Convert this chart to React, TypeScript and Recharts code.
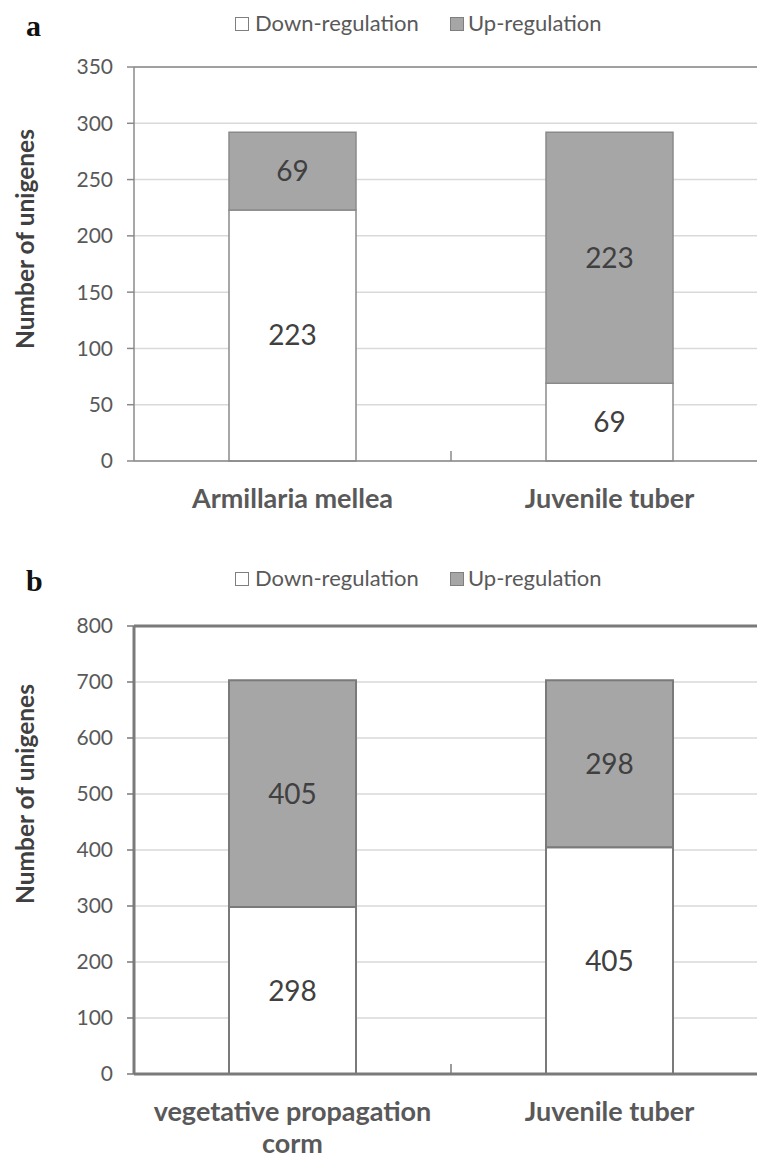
import React from 'react';
import { BarChart, Bar, XAxis, YAxis, CartesianGrid, Legend, LabelList, ReferenceLine } from 'recharts';

const categoriesA = ['Armillaria mellea', 'Juvenile tuber'];
const downA = [223, 69];
const upA = [69, 223];
const ticksA = [0, 50, 100, 150, 200, 250, 300, 350];

const categoriesB = ['vegetative propagation\ncorm', 'Juvenile tuber'];
const downB = [298, 405];
const upB = [405, 298];
const ticksB = [0, 100, 200, 300, 400, 500, 600, 700, 800];

const seriesNames = ['Down-regulation', 'Up-regulation'];

const FONT = 'Lato, "Open Sans", sans-serif';
const CHART_W = 768;
const Y_W = 134;
const BAND = (CHART_W - Y_W) / 2;

const dataA = categoriesA.map((c, i) => ({ name: c, down: downA[i], up: upA[i] }));
const dataB = categoriesB.map((c, i) => ({ name: c, down: downB[i], up: upB[i] }));

const CategoryTick = (props: any) => {
  const { x, y, payload, index, visibleTicksCount, band, stroke } = props;
  const lines = String(payload.value).split('\n');
  return (
    <g>
      {index < visibleTicksCount - 1 && (
        <line x1={x + band / 2} x2={x + band / 2} y1={y - 10} y2={y} stroke={stroke} strokeWidth={1.5} />
      )}
      <text x={x} y={y + 36} textAnchor="middle" dominantBaseline="central" fontFamily={FONT} fontWeight={700} fontSize={27} fill="#595959">
        {lines.map((l, i) => (
          <tspan key={i} x={x} dy={i === 0 ? 0 : 32}>{l}</tspan>
        ))}
      </text>
    </g>
  );
};

const LegendContent = ({ letter, top, letterTop }: any) => (
  <div style={{ position: 'relative', height: 62, fontFamily: FONT }}>
    <div style={{ position: 'absolute', left: 26, top: letterTop, fontFamily: '"Liberation Serif", serif', fontWeight: 700, fontSize: 30, lineHeight: '30px', color: '#111' }}>{letter}</div>
    <div style={{ position: 'absolute', left: 235, top: top - 6, width: 12, height: 12, border: '1px solid #7f7f7f', background: '#fff' }} />
    <div style={{ position: 'absolute', left: 255, top: top - 13, fontSize: 22, lineHeight: '26px', color: '#595959' }}>{seriesNames[0]}</div>
    <div style={{ position: 'absolute', left: 450, top: top - 6, width: 12, height: 12, border: '1px solid #7f7f7f', background: '#a6a6a6' }} />
    <div style={{ position: 'absolute', left: 468, top: top - 13, fontSize: 22, lineHeight: '26px', color: '#595959' }}>{seriesNames[1]}</div>
  </div>
);

const YLabel = ({ viewBox, shift }: any) => {
  const cx = 24;
  const cy = viewBox.y + viewBox.height / 2 + shift;
  return (
    <text x={cx} y={cy} transform={`rotate(-90 ${cx} ${cy})`} textAnchor="middle" dominantBaseline="central" fontFamily={FONT} fontWeight={700} fontSize={24.5} fill="#404040">
      Number of unigenes
    </text>
  );
};

const Panel = ({ data, ticks, max, height, marginTop, xHeight, axisColor, axisW, barStroke, barStrokeW, letter, legendTop, letterTop, labelShift }: any) => (
  <BarChart width={CHART_W} height={height} data={data} margin={{ top: marginTop, right: 0, left: 0, bottom: 3 }}>
    <Legend verticalAlign="top" content={<LegendContent letter={letter} top={legendTop} letterTop={letterTop} />} />
    <CartesianGrid vertical={false} stroke="#d9d9d9" strokeWidth={1.5} />
    <ReferenceLine y={max} stroke={axisColor} strokeWidth={axisW} />
    <XAxis
      dataKey="name"
      height={xHeight}
      axisLine={{ stroke: axisColor, strokeWidth: axisW }}
      tickLine={false}
      tickSize={0}
      tickMargin={0}
      interval={0}
      tick={<CategoryTick band={BAND} stroke={axisColor} />}
    />
    <YAxis
      width={Y_W}
      domain={[0, max]}
      ticks={ticks}
      interval={0}
      axisLine={{ stroke: axisColor, strokeWidth: axisW }}
      tickLine={{ stroke: axisColor, strokeWidth: 1.5 }}
      tickSize={7}
      tickMargin={14}
      tick={{ fontFamily: FONT, fontSize: 21, fill: '#595959' }}
      label={{ content: <YLabel shift={labelShift} /> }}
    />
    <Bar dataKey="down" stackId="s" fill="#ffffff" stroke={barStroke} strokeWidth={barStrokeW} barSize={127} isAnimationActive={false}>
      <LabelList dataKey="down" position="center" fill="#404040" fontSize={28} fontFamily={FONT} />
    </Bar>
    <Bar dataKey="up" stackId="s" fill="#a6a6a6" stroke={barStroke} strokeWidth={barStrokeW} barSize={127} isAnimationActive={false}>
      <LabelList dataKey="up" position="center" fill="#404040" fontSize={28} fontFamily={FONT} />
    </Bar>
  </BarChart>
);

export default function App() {
  return (
    <div style={{ position: 'absolute', left: 0, top: 0, width: 757, height: 1157, overflow: 'hidden', background: '#fff' }}>
      <div style={{ position: 'absolute', left: 0, top: 0 }}>
        <Panel
          data={dataA}
          ticks={ticksA}
          max={350}
          height={530}
          marginTop={5}
          xHeight={66}
          axisColor="#8a8a8a"
          axisW={1.5}
          barStroke="#8a8a8a"
          barStrokeW={1.5}
          letter="a"
          legendTop={18}
          letterTop={6}
          labelShift={-25}
        />
      </div>
      <div style={{ position: 'absolute', left: 0, top: 560 }}>
        <Panel
          data={dataB}
          ticks={ticksB}
          max={800}
          height={597}
          marginTop={4}
          xHeight={80}
          axisColor="#7a7a7a"
          axisW={3}
          barStroke="#7a7a7a"
          barStrokeW={2}
          letter="b"
          legendTop={14}
          letterTop={2}
          labelShift={-56}
        />
      </div>
    </div>
  );
}
